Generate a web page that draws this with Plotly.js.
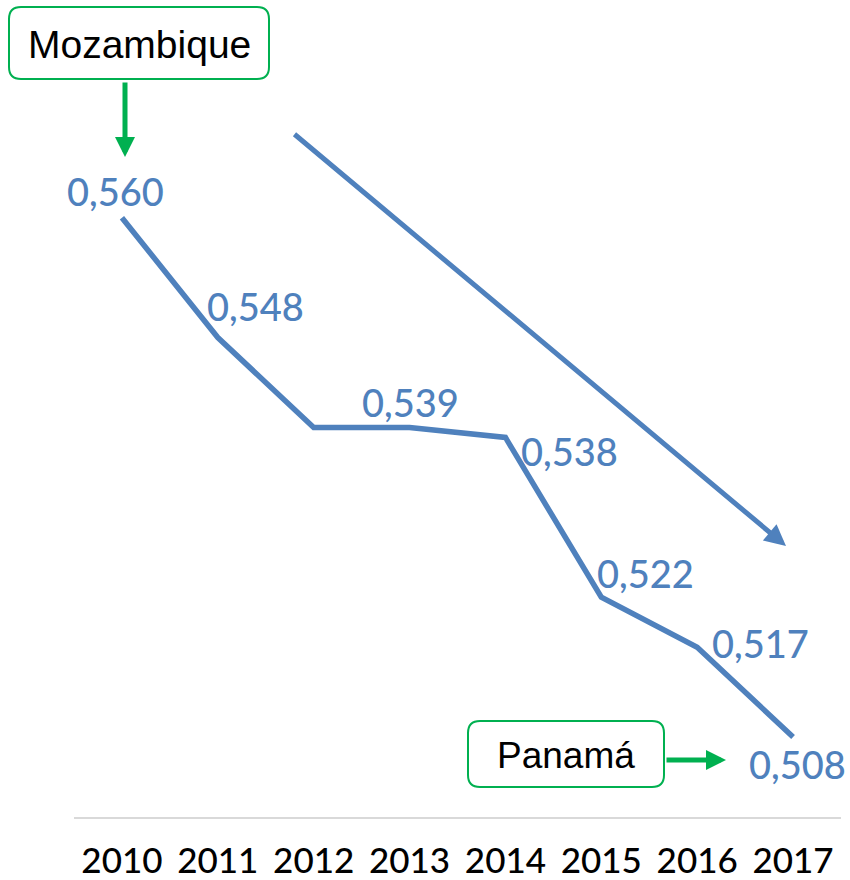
<!DOCTYPE html>
<html>
<head>
<meta charset="utf-8">
<script src="https://cdn.plot.ly/plotly-3.0.1.min.js"></script>
<style>
  html, body { margin: 0; padding: 0; background: #fff; }
  #chart { width: 850px; height: 880px; }
</style>
</head>
<body>
<div id="chart"></div>
<script>
// ---- data ----
const years = ['2010', '2011', '2012', '2013', '2014', '2015', '2016', '2017'];
const gini = [0.560, 0.548, 0.539, 0.539, 0.538, 0.522, 0.517, 0.508];
const labelShown = [true, true, false, true, true, true, true, true];
const topCountry = 'Mozambique';
const bottomCountry = 'Panamá';

// ---- styling / placement (pixels) ----
const blue = '#4F81BD';
const green = '#00B050';
const labelOffsets = [[-6, 27], [38, 32], [0, 0], [1, 25], [64, -14], [44, 24], [63, 4], [4, -27]];

const W = 850, H = 880;
const margin = {l: 74, r: 9, t: 0, b: 63};
const pw = W - margin.l - margin.r, ph = H - margin.t - margin.b;
const px = x => (x - margin.l) / pw;
const py = y => (H - margin.b - y) / ph;

function roundRect(x0, y0, x1, y1, r) {
  const X0 = px(x0), X1 = px(x1), Y0 = py(y0), Y1 = py(y1);
  const rx = r / pw, ry = r / ph;
  return `M ${X0 + rx},${Y0} L ${X1 - rx},${Y0} Q ${X1},${Y0} ${X1},${Y0 - ry} ` +
         `L ${X1},${Y1 + ry} Q ${X1},${Y1} ${X1 - rx},${Y1} L ${X0 + rx},${Y1} ` +
         `Q ${X0},${Y1} ${X0},${Y1 + ry} L ${X0},${Y0 - ry} Q ${X0},${Y0} ${X0 + rx},${Y0} Z`;
}

const fmt = v => v.toFixed(3).replace('.', ',');

const annotations = [];
gini.forEach((v, i) => {
  if (!labelShown[i]) return;
  annotations.push({
    x: i, y: v, xref: 'x', yref: 'y',
    xanchor: 'center', yanchor: 'middle',
    text: fmt(v), showarrow: false,
    xshift: labelOffsets[i][0], yshift: labelOffsets[i][1],
    font: {family: 'Lato, sans-serif', size: 38, color: blue, weight: 500}
  });
});

// country box texts
annotations.push({
  xref: 'paper', yref: 'paper', x: px(139), y: py(45),
  xanchor: 'center', yanchor: 'middle',
  text: topCountry, showarrow: false,
  font: {family: 'Liberation Sans, Arial, sans-serif', size: 39, color: '#000'}
});
annotations.push({
  xref: 'paper', yref: 'paper', x: px(566), y: py(755),
  xanchor: 'center', yanchor: 'middle',
  text: bottomCountry, showarrow: false,
  font: {family: 'Liberation Sans, Arial, sans-serif', size: 37, color: '#000'}
});
// green arrows
annotations.push({
  xref: 'paper', yref: 'paper', x: px(125), y: py(157),
  ax: 0, ay: -76, axref: 'pixel', ayref: 'pixel',
  text: '', showarrow: true, arrowhead: 2, arrowsize: 0.8, arrowwidth: 5, arrowcolor: green, standoff: 0
});
annotations.push({
  xref: 'paper', yref: 'paper', x: px(726), y: py(760),
  ax: -61, ay: 0, axref: 'pixel', ayref: 'pixel',
  text: '', showarrow: true, arrowhead: 2, arrowsize: 0.8, arrowwidth: 5, arrowcolor: green, standoff: 0
});
// big trend arrow
annotations.push({
  xref: 'paper', yref: 'paper', x: px(786), y: py(546),
  ax: px(293), ay: py(133), axref: 'paper', ayref: 'paper',
  text: '', showarrow: true, arrowhead: 2, arrowsize: 0.85, arrowwidth: 5, arrowcolor: blue, standoff: 0
});

const shapes = [
  {type: 'path', xref: 'paper', yref: 'paper', path: roundRect(9, 7, 269, 79, 12),
   line: {color: green, width: 2}, fillcolor: 'rgba(0,0,0,0)'},
  {type: 'path', xref: 'paper', yref: 'paper', path: roundRect(468, 721, 664, 787, 12),
   line: {color: green, width: 2}, fillcolor: 'rgba(0,0,0,0)'}
];

const trace = {
  x: years, y: gini, type: 'scatter', mode: 'lines',
  line: {color: blue, width: 5.5, shape: 'linear'},
  hoverinfo: 'skip'
};

const layout = {
  width: W, height: H, margin: margin,
  paper_bgcolor: '#fff', plot_bgcolor: '#fff',
  showlegend: false,
  xaxis: {
    type: 'category', range: [-0.5, 7.5],
    showgrid: false, zeroline: false,
    showline: true, linecolor: '#D9D9D9', linewidth: 2,
    ticks: '', ticklabelstandoff: 12,
    tickfont: {family: 'Lato, sans-serif', size: 35, color: '#000', weight: 500}
  },
  yaxis: {
    range: [0.500, 0.5818], showgrid: false, zeroline: false,
    showline: false, showticklabels: false, ticks: ''
  },
  annotations: annotations,
  shapes: shapes
};

Plotly.newPlot('chart', [trace], layout, {staticPlot: true, displayModeBar: false});
</script>
</body>
</html>
